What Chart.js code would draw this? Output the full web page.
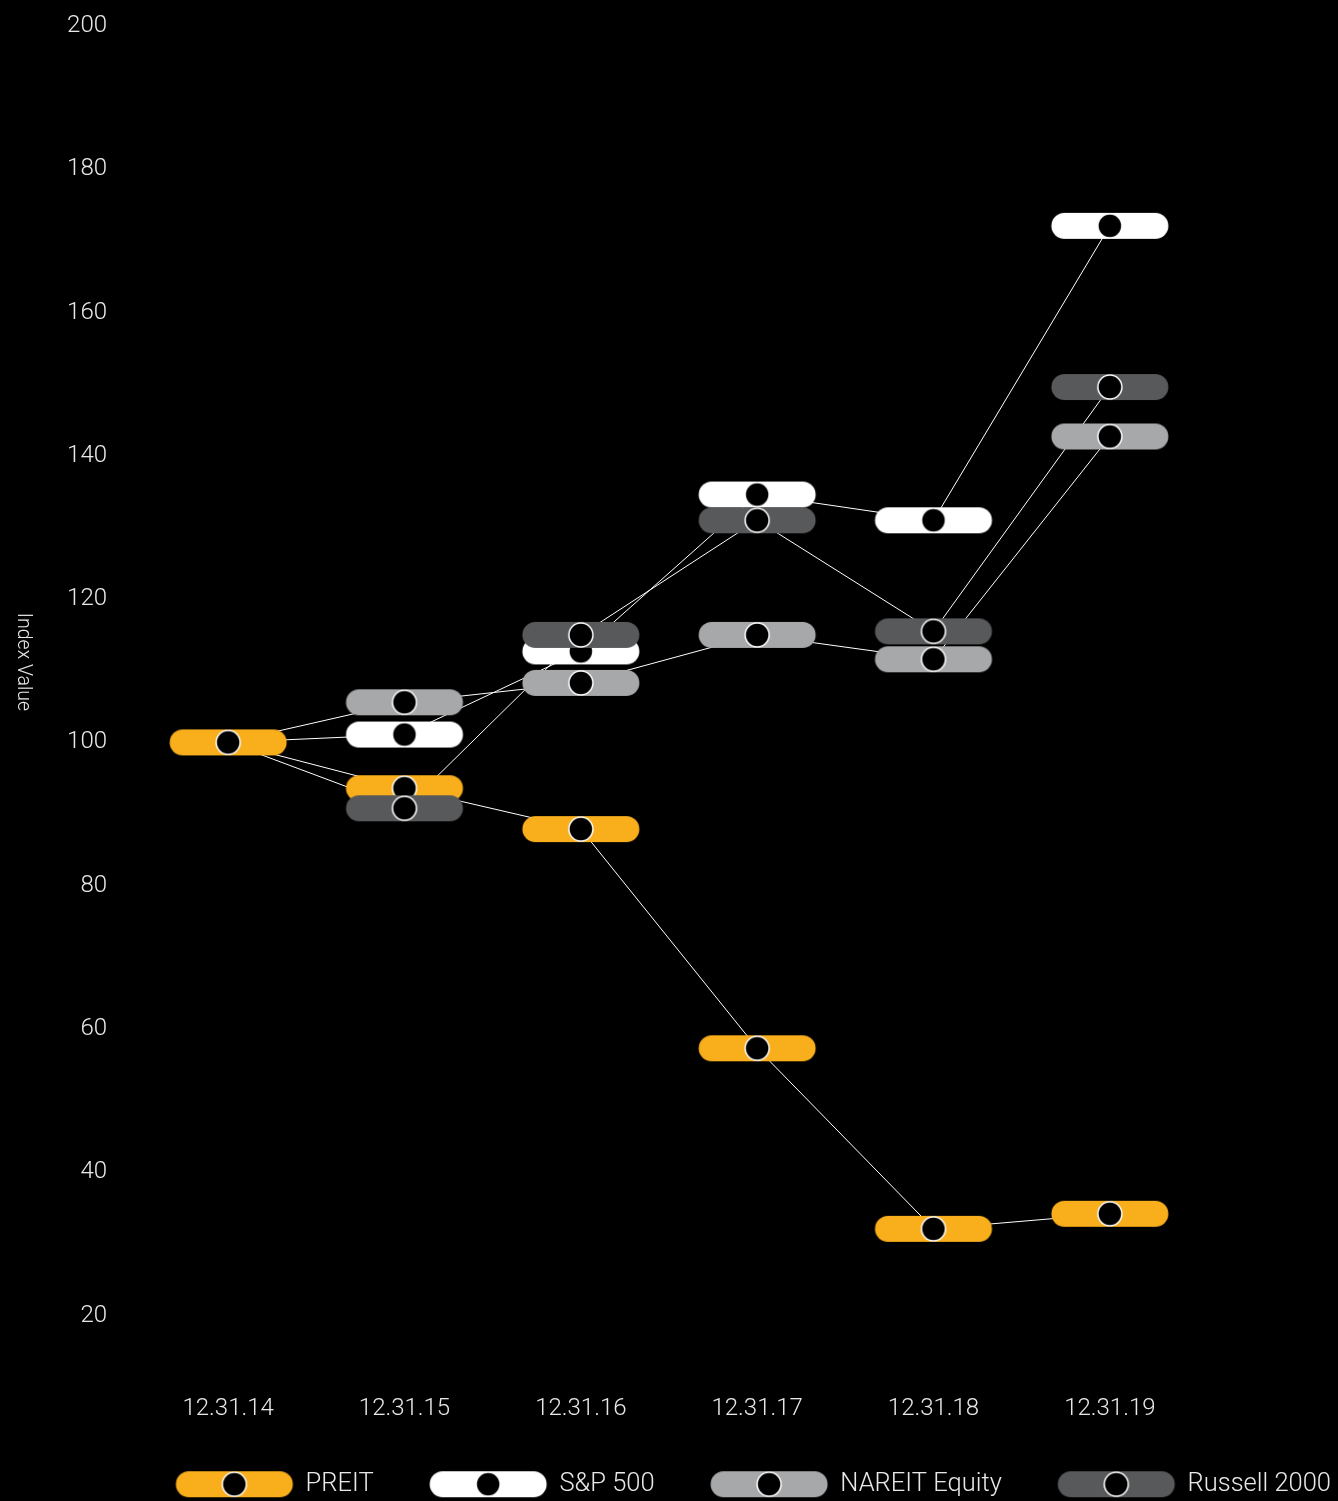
<!DOCTYPE html>
<html>
<head>
<meta charset="utf-8">
<script src="https://cdn.jsdelivr.net/npm/chart.js@4/dist/chart.umd.min.js"></script>
<style>
  body { margin: 0; background: #000; }
  #wrap { width: 1338px; height: 1501px; position: relative; }
</style>
</head>
<body>
<div id="wrap"><canvas id="myChart"></canvas></div>
<script>
// Datos
let fechas = ['12.31.14', '12.31.15', '12.31.16', '12.31.17', '12.31.18', '12.31.19'];
let nombres = ['PREIT', 'S&P 500', 'NAREIT Equity', 'Russell 2000'];
let colores = ['#f9ae1c', '#ffffff', '#a7a8aa', '#58595b'];

let preit = [100, 93.6, 87.9, 57.3, 32.1, 34.2];
let sp500 = [100, 101.1, 112.7, 134.6, 131.0, 172.1];
let nareit = [100, 105.6, 108.3, 115.0, 111.6, 142.7];
let russell = [100, 90.8, 115.0, 131.0, 115.5, 149.6];

let yTicks = { min: 20, max: 200, step: 20 };

let series = [preit, sp500, nareit, russell];
const textColor = '#e8e8e8';
const fuente = "'Helvetica Neue', Roboto, 'Liberation Sans', sans-serif";

// pastilla con circulo negro, se usa como pointStyle
function pastilla(color) {
  const c = document.createElement('canvas');
  c.width = 120;
  c.height = 30;
  const g = c.getContext('2d');
  g.fillStyle = color;
  g.beginPath();
  g.roundRect(1.5, 2, 117, 26, 13);
  g.fill();
  g.beginPath();
  g.arc(60, 15, 12, 0, Math.PI * 2);
  g.fillStyle = '#000';
  g.fill();
  g.strokeStyle = '#fff';
  g.lineWidth = 1.5;
  g.stroke();
  return c;
}

let datasets = [];
// marcadores (Russell arriba)
series.forEach((data, i) => {
  datasets.push({
    label: nombres[i],
    data: data,
    showLine: false,
    pointStyle: pastilla(colores[i]),
    pointRadius: data.map((v, j) => (j === 0 && i > 0) ? 0 : 5),
    pointHoverRadius: data.map((v, j) => (j === 0 && i > 0) ? 0 : 5),
    order: 3 - i,
    clip: false,
  });
});
// lineas finas detras
series.forEach((data, i) => {
  datasets.push({
    label: nombres[i] + ' linea',
    data: data,
    borderColor: '#ffffff',
    borderWidth: 1,
    pointRadius: 0,
    tension: 0,
    order: 10,
    clip: false,
  });
});

// titulo del eje Y girado
const tituloY = {
  id: 'tituloY',
  afterDraw(chart) {
    const ctx = chart.ctx;
    ctx.save();
    ctx.translate(23, 662);
    ctx.rotate(Math.PI / 2);
    ctx.font = '300 19.5px ' + fuente;
    ctx.fillStyle = textColor;
    ctx.textAlign = 'center';
    ctx.textBaseline = 'middle';
    ctx.fillText('Index Value', 0, 0);
    ctx.restore();
  }
};

const ctx = document.getElementById('myChart').getContext('2d');
const myChart = new Chart(ctx, {
  type: 'line',
  data: { labels: fechas, datasets: datasets },
  plugins: [tituloY],
  options: {
    responsive: true,
    maintainAspectRatio: false,
    animation: false,
    layout: { padding: { top: 26, left: 0, right: -49, bottom: -6 } },
    plugins: {
      tooltip: { enabled: false },
      legend: {
        position: 'bottom',
        align: 'end',
        labels: {
          usePointStyle: true,
          pointStyleWidth: 117,
          padding: 56,
          color: textColor,
          font: { size: 25.5, family: fuente, weight: '300' },
          filter: item => item.datasetIndex < 4,
          sort: (a, b) => a.datasetIndex - b.datasetIndex,
        }
      }
    },
    scales: {
      x: {
        offset: true,
        grid: { display: false, drawTicks: false },
        border: { display: false },
        ticks: { color: textColor, padding: 79, font: { size: 24, family: fuente, weight: '300' } },
        afterFit: s => { s.height = 100; }
      },
      y: {
        min: yTicks.min,
        max: yTicks.max,
        grid: { display: false, drawTicks: false },
        border: { display: false },
        ticks: { stepSize: yTicks.step, color: textColor, padding: 33, font: { size: 24, family: fuente, weight: '300' } },
        afterFit: s => { s.width = 140; s.paddingTop = 0; s.paddingBottom = 0; }
      },
      yDer: {
        position: 'right',
        min: yTicks.min,
        max: yTicks.max,
        grid: { display: false, drawTicks: false },
        border: { display: false },
        ticks: { display: false },
        afterFit: s => { s.width = 189; s.paddingTop = 0; s.paddingBottom = 0; }
      }
    }
  }
});
</script>
</body>
</html>
